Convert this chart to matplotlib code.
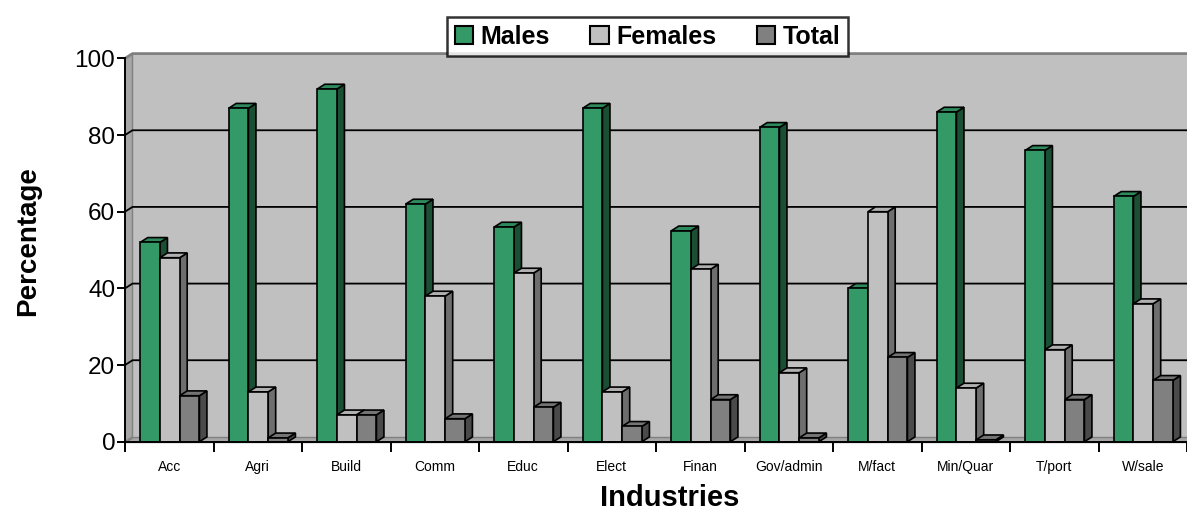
import matplotlib
matplotlib.use('Agg')
import matplotlib.pyplot as plt
from matplotlib.patches import Polygon, Patch

plt.rcParams['font.family'] = 'Liberation Sans'

# Data
industries = ['Acc', 'Agri', 'Build', 'Comm', 'Educ', 'Elect', 'Finan',
              'Gov/admin', 'M/fact', 'Min/Quar', 'T/port', 'W/sale']
males = [52, 87, 92, 62, 56, 87, 55, 82, 40, 86, 76, 64]
females = [48, 13, 7, 38, 44, 13, 45, 18, 60, 14, 24, 36]
total = [12, 1, 7, 6, 9, 4, 11, 1, 22, 0.5, 11, 16]

series = [('Males', males), ('Females', females), ('Total', total)]
front_cols = ['#339966', '#C0C0C0', '#808080']
top_cols = ['#2E8A5C', '#B0B0B0', '#747474']
side_cols = ['#1B4F34', '#6E6E6E', '#4A4A4A']

fig = plt.figure(figsize=(11.87, 5.12), dpi=100)
ax = fig.add_axes([125 / 1187, 70.3 / 512, 1062 / 1187, 383.3 / 512])
ax.set_xlim(0, 12)
ax.set_ylim(0, 100)
ax.set_facecolor('none')

# 3D depth offset in data units
dx = 7.5 / 88.5
dy = 4.8 / 3.833
xr = 13

# walls and floor
ax.add_patch(Polygon([(dx, dy), (xr, dy), (xr, 100 + dy), (dx, 100 + dy)],
                     closed=True, facecolor='#C0C0C0', edgecolor='none',
                     zorder=0, clip_on=False))
ax.add_patch(Polygon([(0, 0), (dx, dy), (dx, 100 + dy), (0, 100)],
                     closed=True, facecolor='#A6A6A6', edgecolor='#808080',
                     lw=1, zorder=0.5, clip_on=False))
ax.add_patch(Polygon([(0, 0), (xr, 0), (xr, dy), (dx, dy)],
                     closed=True, facecolor='#A6A6A6', edgecolor='#808080',
                     lw=1, zorder=0.5, clip_on=False))
ax.plot([0, dx, xr], [100, 100 + dy, 100 + dy], color='#808080', lw=2,
        zorder=0.6, clip_on=False)

# gridlines on the back wall
for v in [20, 40, 60, 80]:
    ax.plot([0, dx, xr], [v, v + dy, v + dy], color='black', lw=1.3,
            zorder=1, clip_on=False)

# bars: sides and tops first, then front faces
bw = 0.223
x0 = 0.172
for i in range(len(industries)):
    for k, (name, vals) in enumerate(series):
        left = i + x0 + k * bw
        right = left + bw
        v = vals[i]
        ax.add_patch(Polygon([(right, 0), (right + dx, dy), (right + dx, v + dy), (right, v)],
                             closed=True, facecolor=side_cols[k], edgecolor='black',
                             lw=1.2, zorder=2, joinstyle='miter'))
        ax.add_patch(Polygon([(left, v), (right, v), (right + dx, v + dy), (left + dx, v + dy)],
                             closed=True, facecolor=top_cols[k], edgecolor='black',
                             lw=1.2, zorder=2, joinstyle='miter'))

for k, (name, vals) in enumerate(series):
    xs = [i + x0 + k * bw for i in range(len(industries))]
    ax.bar(xs, vals, width=bw, align='edge', color=front_cols[k],
           edgecolor='black', linewidth=1.2, zorder=3, label=name)

# axes styling
for s in ['top', 'right']:
    ax.spines[s].set_visible(False)
for s in ['left', 'bottom']:
    ax.spines[s].set_linewidth(1.4)
    ax.spines[s].set_zorder(4)

ax.set_yticks([0, 20, 40, 60, 80, 100])
ax.tick_params(axis='y', direction='out', length=6, width=1.4, labelsize=17.5, pad=1)

ax.set_xticks(range(0, 13))
ax.set_xticklabels([])
ax.set_xticks([i + 0.5 for i in range(len(industries))], minor=True)
ax.set_xticklabels(industries, minor=True)
ax.tick_params(axis='x', which='major', direction='out', length=7, width=1.4)
ax.tick_params(axis='x', which='minor', length=0, labelsize=10, pad=13)

fig.text(28 / 1187, 0.529, 'Percentage', rotation=90, ha='center', va='center',
         fontsize=20, fontweight='bold')
fig.text(669.5 / 1187, 14 / 512, 'Industries', ha='center', va='center',
         fontsize=21, fontweight='bold')

handles = [Patch(facecolor=c, edgecolor='black', linewidth=1.5) for c in front_cols]
leg = fig.legend(handles, [n for n, _ in series], loc='center',
                 bbox_to_anchor=(647.5 / 1187, 475.5 / 512), ncol=3,
                 prop={'size': 18, 'weight': 'bold'}, frameon=True,
                 fancybox=False, edgecolor='black', handlelength=0.75,
                 handleheight=0.75, handletextpad=0.3, columnspacing=1.6,
                 borderpad=0.3)
leg.get_frame().set_linewidth(1.8)
leg.set_zorder(10)

fig.savefig('out.png', dpi=100)
